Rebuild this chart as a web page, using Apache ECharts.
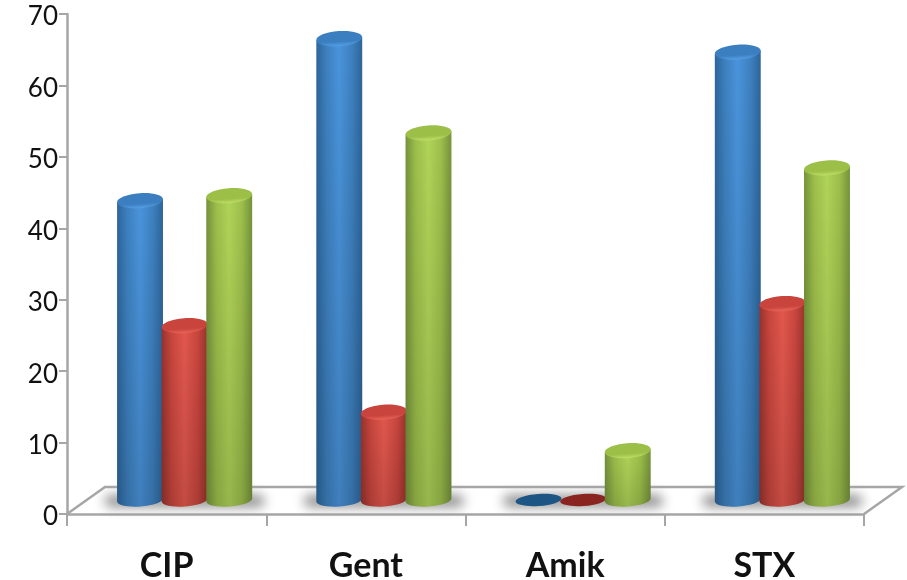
<!DOCTYPE html>
<html>
<head>
<meta charset="utf-8">
<style>
  html, body { margin: 0; padding: 0; background: #fff; }
  #main { width: 907px; height: 580px; }
</style>
<script src="https://cdn.jsdelivr.net/npm/echarts@6/dist/echarts.min.js"></script>
</head>
<body>
<div id="main"></div>
<script>
const categories = ['CIP', 'Gent', 'Amik', 'STX']
const blueValues = [41.9, 64.6, 0, 62.7]
const redValues = [24.4, 12.3, 0, 27.5]
const greenValues = [42.6, 51.4, 6.9, 46.5]

const blueColors = { edge: '#2d659a', side: '#3d80bf', mid: '#4a94dc', cap: '#3c7fc1', capLight: '#55a0e6', flat: '#1d5684' }
const redColors = { edge: '#96332d', side: '#c9463e', mid: '#e2584e', cap: '#c8443c', capLight: '#ea655a', flat: '#8a2420' }
const greenColors = { edge: '#74923a', side: '#9cbe4b', mid: '#b0d458', cap: '#9cbf48', capLight: '#bfe067', flat: '#6d8a33' }

const depthX = 18 // the 3d depth of the plot, in px
const depthY = 14
const barW = 46
const barStep = 44.6
const tilt = 0.07

const bodyFill = (c) => ({
  type: 'linear', x: 0, y: 0, x2: 1, y2: 0,
  colorStops: [
    { offset: 0, color: c.edge },
    { offset: 0.22, color: c.side },
    { offset: 0.5, color: c.mid },
    { offset: 0.78, color: c.side },
    { offset: 1, color: c.edge },
  ],
})

const cylinder = (slot, colors) => (params, api) => {
  const v = api.value(1)
  const base = api.coord([api.value(0), 0])
  const top = api.coord([api.value(0), v])
  const cx = base[0] + depthX + slot * barStep
  const by = base[1] - depthY
  const ty = top[1] - depthY
  const rx = barW / 2
  const ell = (cy, ry, style) => ({
    type: 'ellipse',
    shape: { cx: cx, cy: cy, rx: rx, ry: ry },
    rotation: tilt,
    originX: cx,
    originY: cy,
    style: style,
  })
  if (v === 0) {
    return { type: 'group', children: [ell(by, 6, { fill: colors.flat })] }
  }
  const dx = rx * Math.cos(tilt)
  const dy = rx * Math.sin(tilt)
  const deg = (-tilt * 180) / Math.PI
  const body =
    `M${cx - dx} ${ty + dy} L${cx - dx} ${by + dy} ` +
    `A${rx} 6.5 ${deg} 0 0 ${cx + dx} ${by - dy} L${cx + dx} ${ty - dy} Z`
  return {
    type: 'group',
    children: [
      { type: 'path', shape: { pathData: body }, style: { fill: bodyFill(colors) } },
      {
        type: 'path',
        shape: { pathData: body },
        style: {
          fill: {
            type: 'linear', x: 0, y: 0, x2: 0, y2: 1,
            colorStops: [
              { offset: 0, color: 'rgba(0,0,0,0)' },
              { offset: 1, color: 'rgba(0,0,0,0.14)' },
            ],
          },
        },
      },
      ell(ty, 7.5, {
        fill: {
          type: 'linear', x: 0, y: 0, x2: 0, y2: 1,
          colorStops: [
            { offset: 0, color: colors.cap },
            { offset: 0.7, color: colors.cap },
            { offset: 1, color: colors.capLight },
          ],
        },
      }),
    ],
  }
}

// floor of the 3d plot
const renderFloor = (params) => {
  const g = params.coordSys
  const left = g.x
  const right = g.x + g.width
  const front = g.y + g.height
  const back = front - 27
  return {
    type: 'polyline',
    shape: {
      points: [[left, front], [left + 38, back], [right + 38, back], [right, front]],
    },
    style: { fill: 'none', stroke: '#a6a6a6', lineWidth: 2.5 },
  }
}

// soft shadow that each group of bars throws on the floor
// the rect itself sits off canvas so only its blur lands on the floor
const renderShadow = (params, api) => {
  const base = api.coord([api.value(0), 0])
  const cx = base[0] + depthX
  return {
    type: 'rect',
    shape: { x: cx - 80 - 2000, y: base[1] - 19, width: 160, height: 12, r: 6 },
    style: {
      fill: '#888',
      shadowColor: 'rgba(140,140,140,1)',
      shadowBlur: 12,
      shadowOffsetX: 2000,
    },
  }
}

const makeBars = (name, values, slot, colors) => ({
  name: name,
  type: 'custom',
  coordinateSystem: 'cartesian2d',
  renderItem: cylinder(slot, colors),
  encode: { x: 0, y: 1 },
  data: values.map((v, i) => [i, v]),
  z: 5,
  clip: false,
})

const chart = echarts.init(document.getElementById('main'))
chart.setOption({
  animation: false,
  grid: { left: 67, right: 43, top: 14, bottom: 66, outerBoundsMode: 'none' },
  xAxis: {
    type: 'category',
    data: categories,
    axisLine: { lineStyle: { color: '#a6a6a6', width: 2.5 } },
    axisTick: { show: true, alignWithLabel: false, length: 12, lineStyle: { color: '#a6a6a6', width: 2 } },
    axisLabel: { color: '#111', fontFamily: 'Lato', fontWeight: 'bold', fontSize: 34, margin: 35 },
    splitLine: { show: false },
  },
  yAxis: {
    type: 'value',
    min: 0,
    max: 70,
    interval: 10,
    axisLine: { show: true, lineStyle: { color: '#a6a6a6', width: 2.5 } },
    axisTick: { show: true, length: 8, lineStyle: { color: '#a6a6a6', width: 2 } },
    axisLabel: {
      margin: 9,
      formatter: '{n|{value}}',
      rich: { n: { color: '#111', fontFamily: 'Lato', fontSize: 26, padding: [6, 0, 0, 0] } },
    },
    splitLine: { show: false },
  },
  series: [
    {
      type: 'custom',
      renderItem: renderShadow,
      data: categories.map((c, i) => [i, 0]),
      encode: { x: 0, y: 1 },
      z: 1,
      clip: false,
    },
    {
      type: 'custom',
      renderItem: renderFloor,
      data: [[0, 0]],
      encode: { x: 0, y: 1 },
      z: 2,
      clip: false,
    },
    makeBars('Blue', blueValues, -1, blueColors),
    makeBars('Red', redValues, 0, redColors),
    makeBars('Green', greenValues, 1, greenColors),
  ],
})
</script>
</body>
</html>
